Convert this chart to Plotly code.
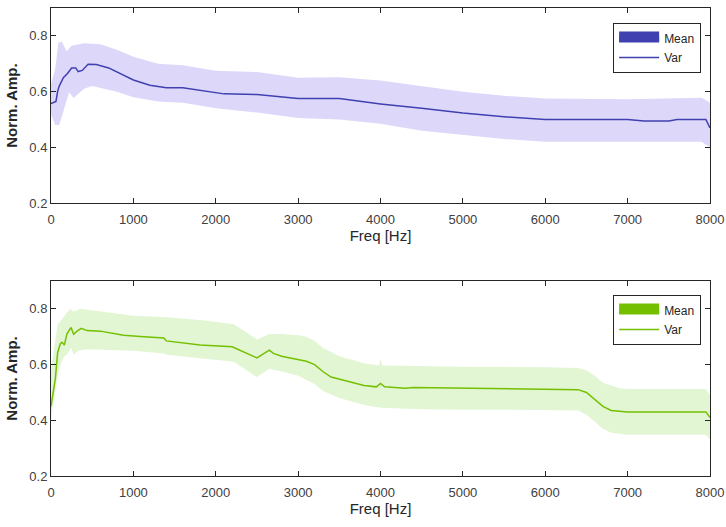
import plotly.graph_objects as go

# ---------------- Top panel data ----------------
top_mean_f = [0, 30, 60, 80, 100, 150, 200, 250, 300, 330, 380, 450, 550, 700, 1000, 1200, 1400, 1600,
              2000, 2100, 2500, 2800, 3000, 3500, 4000, 4500, 5000, 5500, 6000, 7000, 7200, 7500, 7600, 7950, 8000]
top_mean_v = [0.557, 0.56, 0.565, 0.60, 0.62, 0.65, 0.665, 0.685, 0.685, 0.672, 0.676, 0.698, 0.697, 0.685, 0.642,
              0.623, 0.614, 0.614, 0.598, 0.592, 0.59, 0.58, 0.575, 0.575, 0.556, 0.54, 0.523, 0.51, 0.50, 0.50,
              0.495, 0.495, 0.50, 0.50, 0.47]

top_up_f = [0, 50, 90, 130, 190, 250, 400, 600, 800, 1000, 1300, 1600, 2000, 2500, 3000, 3500, 4000, 4500,
            5000, 5500, 6000, 7000, 7900, 8000]
top_up_v = [0.628, 0.68, 0.775, 0.78, 0.745, 0.765, 0.774, 0.77, 0.75, 0.725, 0.70, 0.695, 0.675, 0.67, 0.65,
            0.652, 0.64, 0.62, 0.60, 0.585, 0.575, 0.573, 0.578, 0.56]

top_lo_f = [0, 50, 100, 150, 220, 275, 400, 500, 800, 1000, 1300, 1600, 2000, 2500, 3000, 3500, 4000, 4500,
            5000, 5500, 6000, 7000, 7900, 8000]
top_lo_v = [0.52, 0.48, 0.48, 0.53, 0.598, 0.577, 0.61, 0.62, 0.60, 0.58, 0.565, 0.56, 0.54, 0.525, 0.505,
            0.50, 0.485, 0.46, 0.445, 0.43, 0.42, 0.42, 0.42, 0.40]

# ---------------- Bottom panel data ----------------
bot_mean_f = [0, 24, 53, 80, 113, 134, 162, 194, 243, 275, 316, 368, 437, 600, 880, 1125, 1370, 1400, 1810,
              2200, 2500, 2650, 2700, 2800, 3000, 3100, 3200, 3300, 3400, 3600, 3800, 3950, 4000, 4050, 4300,
              4400, 5000, 6000, 6400, 6500, 6600, 6700, 6800, 7000, 7950, 8000]
bot_mean_v = [0.45, 0.49, 0.55, 0.642, 0.675, 0.68, 0.67, 0.71, 0.733, 0.709, 0.72, 0.73, 0.722, 0.72, 0.705,
              0.70, 0.695, 0.685, 0.67, 0.664, 0.624, 0.652, 0.64, 0.63, 0.618, 0.612, 0.60, 0.575, 0.555, 0.54,
              0.525, 0.52, 0.532, 0.52, 0.515, 0.518, 0.515, 0.512, 0.51, 0.50, 0.475, 0.45, 0.435, 0.43, 0.43,
              0.41]

bot_up_f = [0, 53, 80, 113, 174, 235, 275, 356, 600, 1000, 1400, 1810, 2220, 2500, 2650, 2800, 3000, 3100,
            3200, 3300, 3500, 3800, 3980, 4000, 4020, 4500, 5000, 6000, 6400, 6500, 6600, 6700, 6900, 7000,
            7950, 8000]
bot_up_v = [0.58, 0.70, 0.745, 0.755, 0.78, 0.80, 0.79, 0.80, 0.79, 0.775, 0.77, 0.76, 0.745, 0.69, 0.71,
            0.71, 0.705, 0.70, 0.685, 0.66, 0.63, 0.605, 0.597, 0.62, 0.597, 0.594, 0.592, 0.59, 0.588, 0.58,
            0.56, 0.535, 0.515, 0.512, 0.512, 0.49]

bot_lo_f = [0, 53, 80, 113, 162, 194, 243, 275, 330, 437, 1000, 1370, 1400, 2220, 2500, 2650, 2800, 3000,
            3100, 3200, 3300, 3500, 3800, 4000, 4500, 5000, 6000, 6400, 6500, 6600, 6700, 6800, 7000, 7950, 8000]
bot_lo_v = [0.40, 0.50, 0.56, 0.60, 0.63, 0.635, 0.66, 0.636, 0.65, 0.655, 0.65, 0.64, 0.635, 0.61, 0.555,
            0.585, 0.575, 0.56, 0.545, 0.53, 0.505, 0.48, 0.455, 0.445, 0.44, 0.438, 0.437, 0.435, 0.42, 0.395,
            0.37, 0.355, 0.348, 0.348, 0.33]

x_ticks = [0, 1000, 2000, 3000, 4000, 5000, 6000, 7000, 8000]
y_ticks = [0.2, 0.4, 0.6, 0.8]
legend_labels = ["Mean", "Var"]

TOP_LINE = "rgb(64,64,176)"
TOP_BAND = "rgb(221,216,250)"
BOT_LINE = "rgb(116,192,0)"
BOT_BAND = "rgb(226,246,212)"

fig = go.Figure()


def add_panel(xa, ya, legend, f_up, v_up, f_lo, v_lo, f_m, v_m, line_c, band_c):
    fig.add_trace(go.Scatter(
        x=f_up + f_lo[::-1], y=v_up + v_lo[::-1], fill="toself", fillcolor=band_c,
        line=dict(width=0, color=band_c), mode="lines", showlegend=False, hoverinfo="skip",
        xaxis=xa, yaxis=ya))
    fig.add_trace(go.Scatter(
        x=[None], y=[None], fill="toself", fillcolor=line_c, mode="lines",
        line=dict(width=10, color=line_c), name=legend_labels[0], legend=legend,
        xaxis=xa, yaxis=ya))
    fig.add_trace(go.Scatter(
        x=f_m, y=v_m, mode="lines", line=dict(color=line_c, width=1.5),
        name=legend_labels[1], legend=legend, xaxis=xa, yaxis=ya))


add_panel("x", "y", "legend", top_up_f, top_up_v, top_lo_f, top_lo_v, top_mean_f, top_mean_v, TOP_LINE, TOP_BAND)
add_panel("x2", "y2", "legend2", bot_up_f, bot_up_v, bot_lo_f, bot_lo_v, bot_mean_f, bot_mean_v, BOT_LINE, BOT_BAND)

FONT = "Liberation Sans, Arial, sans-serif"
axis_font = dict(family=FONT, size=13, color="#404040")
common_x = dict(range=[0, 8000], tickvals=x_ticks, ticks="inside", ticklen=5, tickcolor="#262626",
                showline=True, linecolor="#262626", linewidth=1, mirror="ticks", showgrid=False,
                zeroline=False, tickfont=axis_font, automargin=False, ticklabelstandoff=4,
                title=dict(text="Freq [Hz]", font=dict(family=FONT, size=15, color="#262626"), standoff=4))
common_y = dict(range=[0.2, 0.9], tickvals=y_ticks, tickformat=".1f", ticks="inside", ticklen=5,
                tickcolor="#262626", showline=True, linecolor="#262626", linewidth=1, mirror="ticks",
                showgrid=False, zeroline=False, tickfont=axis_font, automargin=False,
                title=dict(text="<b>Norm. Amp.</b>", font=dict(family=FONT, size=15, color="#262626"),
                           standoff=8))

legend_common = dict(bgcolor="white", bordercolor="#262626", borderwidth=1,
                     font=dict(family=FONT, size=12, color="#262626"),
                     xanchor="left", yanchor="top", x=0.853, itemwidth=40, tracegroupgap=0)

fig.update_layout(
    width=726, height=527, margin=dict(l=51, r=16, t=8, b=51, autoexpand=False),
    paper_bgcolor="white", plot_bgcolor="white",
    xaxis=dict(domain=[0, 1], anchor="y", **common_x),
    yaxis=dict(domain=[0.583, 1], anchor="x", **common_y),
    xaxis2=dict(domain=[0, 1], anchor="y2", **common_x),
    yaxis2=dict(domain=[0, 0.4167], anchor="x2", **common_y),
    legend=dict(y=0.968, **legend_common),
    legend2=dict(y=0.387, **legend_common),
)

fig.write_html("out.html")
